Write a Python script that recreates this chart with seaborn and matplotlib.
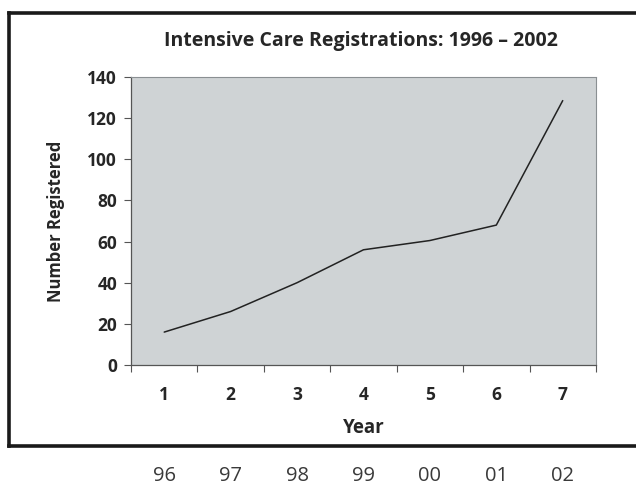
import matplotlib
matplotlib.use("Agg")
import matplotlib.pyplot as plt
import matplotlib.transforms as mtransforms
from matplotlib.lines import Line2D
import pandas as pd
import seaborn as sns

# data
year_index = [1, 2, 3, 4, 5, 6, 7]
registered = [16, 26, 40, 56, 60.5, 68, 128.5]
year_short = ["96", "97", "98", "99", "00", "01", "02"]
y_ticks = [0, 20, 40, 60, 80, 100, 120, 140]

df = pd.DataFrame({"year": year_index, "registered": registered})

sns.set_style("white")
plt.rcParams['font.family'] = ['Open Sans', 'DejaVu Sans']

fig = plt.figure(figsize=(6.36, 4.87), dpi=100)
fig.patch.set_facecolor("white")
ax = fig.add_axes([0.206, 0.2505, 0.731, 0.5915])

sns.lineplot(data=df, x="year", y="registered", color="#222222", linewidth=1.1, ax=ax)

ax.set_facecolor("#cfd3d5")
ax.set_xlim(0.5, 7.5)
ax.set_ylim(0, 140)
ax.set_yticks(y_ticks)
ax.set_xticks(year_index)
ax.set_xticks([i + 0.5 for i in range(8)], minor=True)
ax.tick_params(axis="x", which="major", length=0, pad=15, labelsize=12.5)
ax.tick_params(axis="x", which="minor", length=5, width=0.8, color="#555555", direction="out")
ax.tick_params(axis="y", length=5, width=0.8, color="#555555", direction="out", labelsize=12.5, pad=5)
ax.tick_params(bottom=True, left=True, which="both")
for lab in ax.get_xticklabels() + ax.get_yticklabels():
    lab.set_fontweight("bold")

for side in ["top", "right"]:
    ax.spines[side].set_color("#8a8f92")
    ax.spines[side].set_linestyle((0, (1, 1)))
    ax.spines[side].set_linewidth(0.8)
for side in ["left", "bottom"]:
    ax.spines[side].set_color("#555555")
    ax.spines[side].set_linewidth(0.9)

ax.set_xlabel("Year", fontsize=13.5, fontweight="bold", labelpad=10)
ax.set_ylabel("Number Registered", fontsize=12, fontweight="bold", labelpad=16)
fig.text(0.568, 0.916, "Intensive Care Registrations: 1996 \u2013 2002",
         ha="center", va="center", fontsize=14, fontweight="bold")

# outer frame around the chart (open on the right, like the crop)
frame = dict(color="#1a1a1a", linewidth=2.6, solid_capstyle="projecting", clip_on=False)
x0, y0, y1 = 9 / 636, 1 - 446 / 487, 1 - 13 / 487
fig.add_artist(Line2D([x0, x0], [y0, y1], transform=fig.transFigure, **frame))
fig.add_artist(Line2D([x0, 1.0], [y1, y1], transform=fig.transFigure, **frame))
fig.add_artist(Line2D([x0, 1.0], [y0, y0], transform=fig.transFigure, **frame))

# two-digit years under the frame
trans = mtransforms.blended_transform_factory(ax.transData, fig.transFigure)
for x, lab in zip(year_index, year_short):
    ax.text(x, 0.022, lab, transform=trans, ha="center", va="center",
            fontsize=14.5, color="#3a3a3a", clip_on=False)

fig.savefig("out.png", dpi=100, facecolor="white")
